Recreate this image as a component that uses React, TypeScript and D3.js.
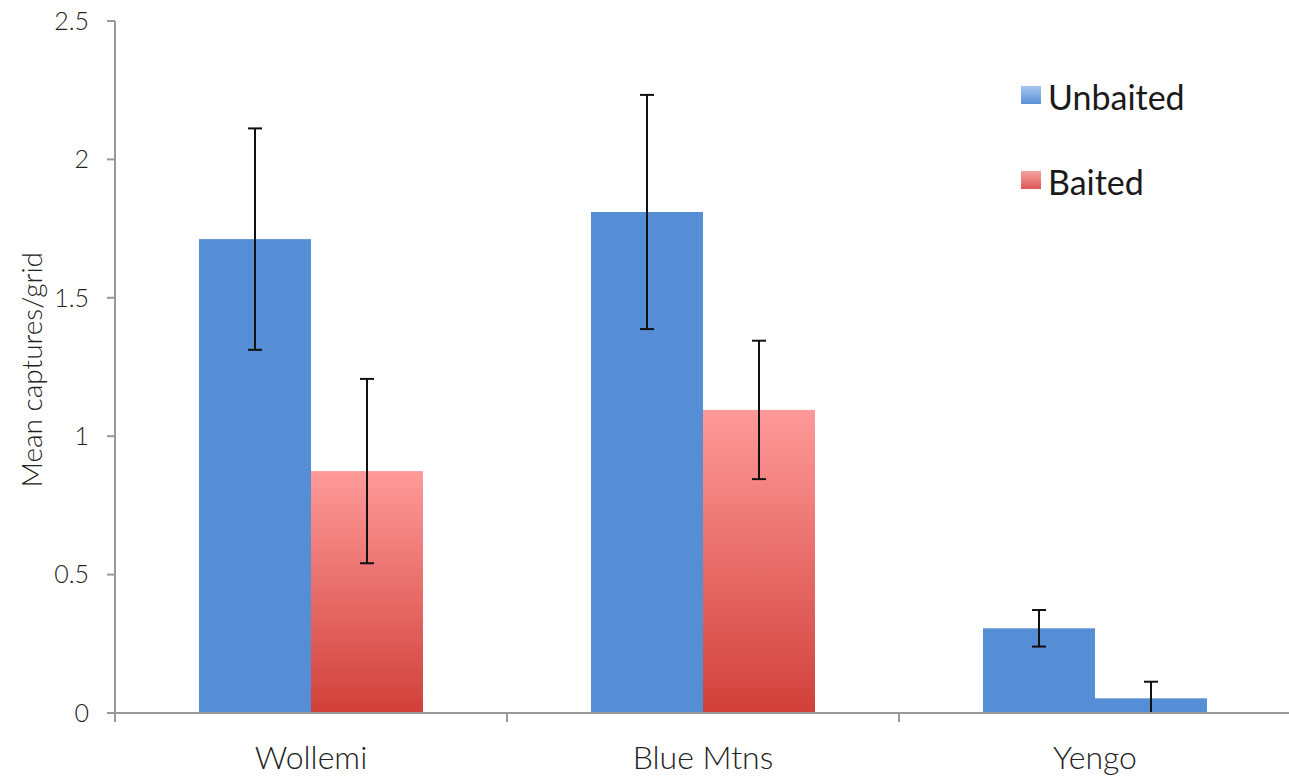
import React from "react";
import * as d3 from "d3";

const categories = ["Wollemi", "Blue Mtns", "Yengo"];
const seriesNames = ["Unbaited", "Baited"];
const unbaited = [1.712, 1.81, 0.306];
const unbaitedErr = [0.4, 0.423, 0.066];
const baited = [0.874, 1.095, 0.053];
const baitedErr = [0.333, 0.25, 0.06];
const yTicks = [0, 0.5, 1, 1.5, 2, 2.5];
const yTickLabels = ["0", "0.5", "1", "1.5", "2", "2.5"];

const W = 1289;
const H = 778;
const FONT = "Lato, 'Open Sans', sans-serif";

export default function App() {
  const x0 = d3.scaleBand<string>().domain(categories).range([115, 1291]).paddingInner(0).paddingOuter(0);
  const x1 = d3.scaleBand<string>().domain(seriesNames).range([84, 308]).padding(0);
  const y = d3.scaleLinear().domain([0, 2.5]).range([713, 21]);

  const data = categories.map((c, i) => ({
    cat: c,
    vals: [
      { s: "Unbaited", v: unbaited[i], e: unbaitedErr[i] },
      { s: "Baited", v: baited[i], e: baitedErr[i] },
    ],
  }));

  const fillFor = (s: string, ci: number) => {
    if (s === "Unbaited") return "#558ed5";
    // Yengo baited bar is blue in the reference
    if (ci === 2) return "#558ed5";
    return "url(#redGrad)";
  };

  return (
    <svg width={W} height={H} style={{ position: "absolute", left: 0, top: 0, background: "#fff" }}>
      <defs>
        <linearGradient id="redGrad" x1="0" y1="0" x2="0" y2="1">
          <stop offset="0%" stopColor="#fe9a99" />
          <stop offset="100%" stopColor="#d1403a" />
        </linearGradient>
        <linearGradient id="redSw" x1="0" y1="0" x2="0" y2="1">
          <stop offset="0%" stopColor="#f7a3a2" />
          <stop offset="100%" stopColor="#db5752" />
        </linearGradient>
        <linearGradient id="blueSw" x1="0" y1="0" x2="0" y2="1">
          <stop offset="0%" stopColor="#a7c6ee" />
          <stop offset="100%" stopColor="#5a92d6" />
        </linearGradient>
      </defs>

      {/* bars */}
      {data.map((d, ci) =>
        d.vals.map((b) => {
          const bx = (x0(d.cat) as number) + (x1(b.s) as number);
          const bw = x1.bandwidth();
          return (
            <rect
              key={d.cat + b.s}
              x={bx}
              y={y(b.v)}
              width={bw}
              height={y(0) - y(b.v)}
              fill={fillFor(b.s, ci)}
            />
          );
        })
      )}

      {/* error bars */}
      {data.map((d) =>
        d.vals.map((b) => {
          const cx = (x0(d.cat) as number) + (x1(b.s) as number) + x1.bandwidth() / 2;
          const top = y(b.v + b.e);
          const bot = y(Math.max(0, b.v - b.e));
          return (
            <g key={"e" + d.cat + b.s} stroke="#111" strokeWidth={2}>
              <line x1={cx} x2={cx} y1={top} y2={bot} />
              <line x1={cx - 7} x2={cx + 7} y1={top} y2={top} />
              <line x1={cx - 7} x2={cx + 7} y1={bot} y2={bot} />
            </g>
          );
        })
      )}

      {/* y axis */}
      <line x1={115} x2={115} y1={y(2.5)} y2={722} stroke="#999" strokeWidth={2} />
      {yTicks.map((t, i) => (
        <g key={"yt" + t}>
          <line x1={107} x2={115} y1={y(t)} y2={y(t)} stroke="#999" strokeWidth={2} />
          <text
            x={89}
            y={y(t)}
            dy="0.35em"
            textAnchor="end"
            fontFamily={FONT}
            fontSize={25}
            fontWeight={300}
            fill="#222"
          >
            {yTickLabels[i]}
          </text>
        </g>
      ))}

      {/* x axis */}
      <line x1={107} x2={1291} y1={713} y2={713} stroke="#999" strokeWidth={2} />
      {categories.slice(1).map((c) => (
        <line key={"xt" + c} x1={x0(c) as number} x2={x0(c) as number} y1={713} y2={722} stroke="#999" strokeWidth={2} />
      ))}
      {categories.map((c) => (
        <text
          key={"xl" + c}
          x={(x0(c) as number) + x0.bandwidth() / 2}
          y={769}
          textAnchor="middle"
          fontFamily={FONT}
          fontSize={32}
          fontWeight={300}
          fill="#222"
        >
          {c}
        </text>
      ))}

      {/* y label */}
      <text
        transform={`translate(42, ${y(1.24)}) rotate(-90)`}
        textAnchor="middle"
        fontFamily={FONT}
        fontSize={28}
        fontWeight={300}
        fill="#222"
      >
        Mean captures/grid
      </text>

      {/* legend */}
      {seriesNames.map((s, i) => (
        <g key={"lg" + s} transform={`translate(1021, ${86 + i * 85})`}>
          <rect x={0} y={0} width={20} height={18} fill={i === 0 ? "url(#blueSw)" : "url(#redSw)"} />
          <text x={27} y={11} dy="0.38em" fontFamily={FONT} fontSize={34} fill="#1a1a1a">
            {s}
          </text>
        </g>
      ))}
    </svg>
  );
}
